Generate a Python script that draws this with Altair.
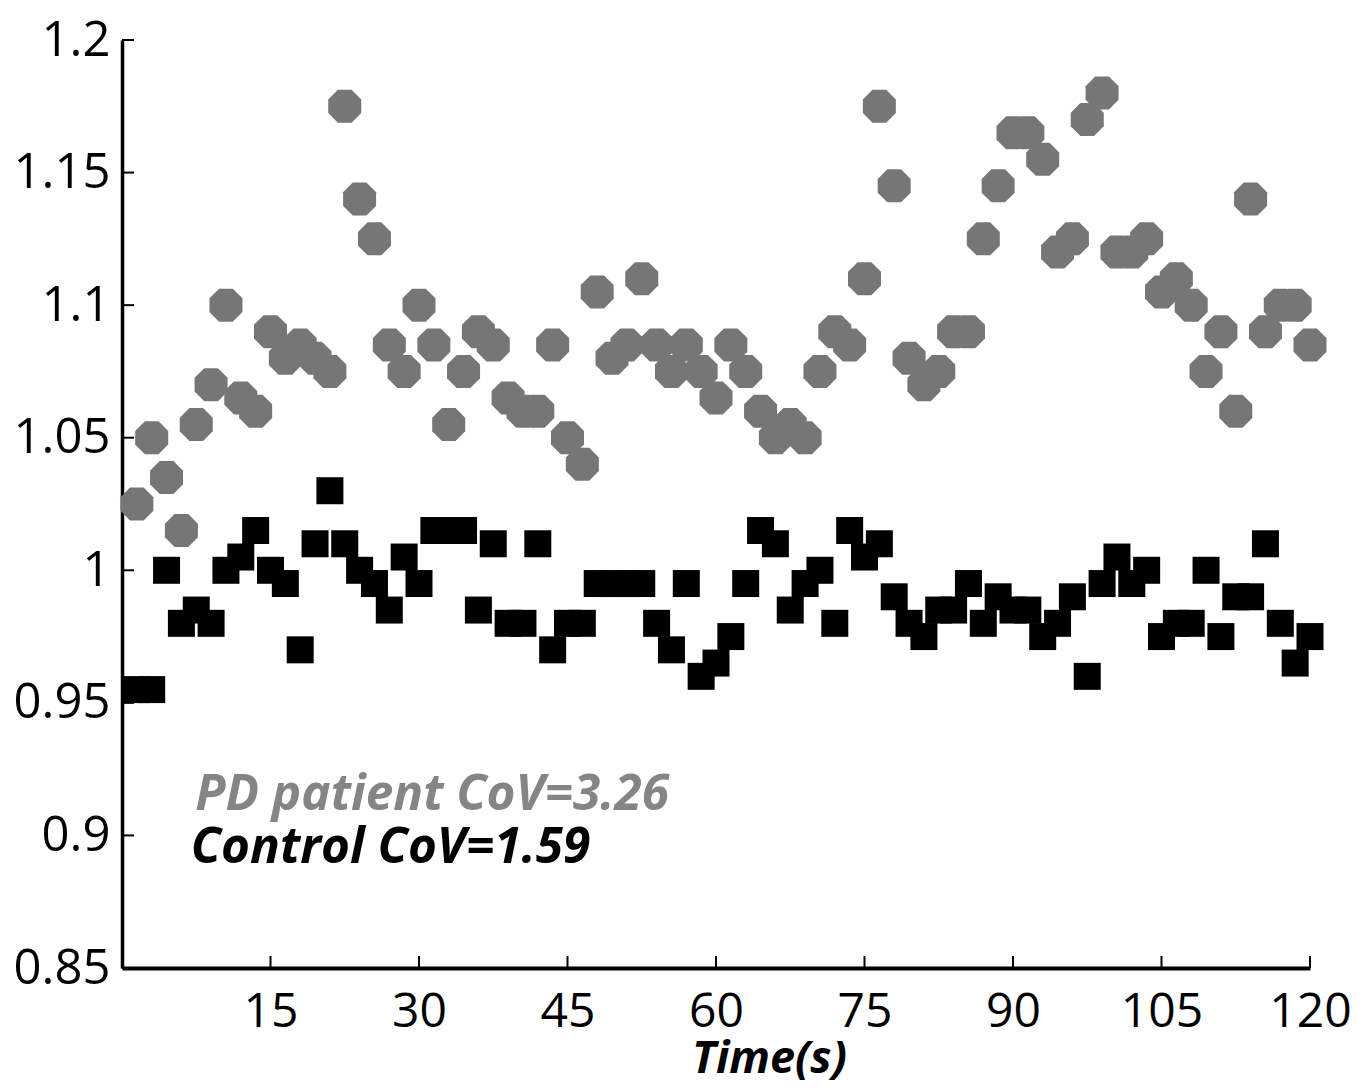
import altair as alt
import pandas as pd

# Time (s) of each stride
time_s = [1.5, 3.0, 4.5, 6.0, 7.5, 9.0, 10.5, 12.0, 13.5, 15.0,
          16.5, 18.0, 19.5, 21.0, 22.5, 24.0, 25.5, 27.0, 28.5, 30.0,
          31.5, 33.0, 34.5, 36.0, 37.5, 39.0, 40.5, 42.0, 43.5, 45.0,
          46.5, 48.0, 49.5, 51.0, 52.5, 54.0, 55.5, 57.0, 58.5, 60.0,
          61.5, 63.0, 64.5, 66.0, 67.5, 69.0, 70.5, 72.0, 73.5, 75.0,
          76.5, 78.0, 79.5, 81.0, 82.5, 84.0, 85.5, 87.0, 88.5, 90.0,
          91.5, 93.0, 94.5, 96.0, 97.5, 99.0, 100.5, 102.0, 103.5, 105.0,
          106.5, 108.0, 109.5, 111.0, 112.5, 114.0, 115.5, 117.0, 118.5, 120.0]

pd_patient = [1.025, 1.05, 1.035, 1.015, 1.055, 1.07, 1.1, 1.065, 1.06, 1.09,
              1.08, 1.085, 1.08, 1.075, 1.175, 1.14, 1.125, 1.085, 1.075, 1.1,
              1.085, 1.055, 1.075, 1.09, 1.085, 1.065, 1.06, 1.06, 1.085, 1.05,
              1.04, 1.105, 1.08, 1.085, 1.11, 1.085, 1.075, 1.085, 1.075, 1.065,
              1.085, 1.075, 1.06, 1.05, 1.055, 1.05, 1.075, 1.09, 1.085, 1.11,
              1.175, 1.145, 1.08, 1.07, 1.075, 1.09, 1.09, 1.125, 1.145, 1.165,
              1.165, 1.155, 1.12, 1.125, 1.17, 1.18, 1.12, 1.12, 1.125, 1.105,
              1.11, 1.1, 1.075, 1.09, 1.06, 1.14, 1.09, 1.1, 1.1, 1.085]

control = [0.955, 0.955, 1.0, 0.98, 0.985, 0.98, 1.0, 1.005, 1.015, 1.0,
           0.995, 0.97, 1.01, 1.03, 1.01, 1.0, 0.995, 0.985, 1.005, 0.995,
           1.015, 1.015, 1.015, 0.985, 1.01, 0.98, 0.98, 1.01, 0.97, 0.98,
           0.98, 0.995, 0.995, 0.995, 0.995, 0.98, 0.97, 0.995, 0.96, 0.965,
           0.975, 0.995, 1.015, 1.01, 0.985, 0.995, 1.0, 0.98, 1.015, 1.005,
           1.01, 0.99, 0.98, 0.975, 0.985, 0.985, 0.995, 0.98, 0.99, 0.985,
           0.985, 0.975, 0.98, 0.99, 0.96, 0.995, 1.005, 0.995, 1.0, 0.975,
           0.98, 0.98, 1.0, 0.975, 0.99, 0.99, 1.01, 0.98, 0.965, 0.975]

x_ticks = [15, 30, 45, 60, 75, 90, 105, 120]
y_ticks = [0.85, 0.9, 0.95, 1.0, 1.05, 1.1, 1.15, 1.2]

labels = ["PD patient CoV=3.26", "Control CoV=1.59"]
label_t = [7.4, 6.95]
label_v = [0.9095, 0.8895]
label_colors = ["#858585", "#000000"]

W, H = 1188, 928
GRAY = "#767676"
OCTAGON = ("M -0.414 -1 L 0.414 -1 L 1 -0.414 L 1 0.414 L 0.414 1 "
           "L -0.414 1 L -1 0.414 L -1 -0.414 Z")

df_pd = pd.DataFrame({"t": time_s, "v": pd_patient})
df_c = pd.DataFrame({"t": time_s, "v": control})
df_xt = pd.DataFrame({"t": x_ticks})
df_yt = pd.DataFrame({"v": y_ticks})
df_lab = pd.DataFrame({"t": label_t, "v": label_v, "label": labels, "c": label_colors})

xscale = alt.Scale(domain=[0, 120], nice=False, zero=False)
yscale = alt.Scale(domain=[0.85, 1.2], nice=False, zero=False)

x_axis = alt.Axis(values=x_ticks, title="Time(s)", grid=False, tickSize=0,
                  labelFont="Open Sans", labelFontSize=48, labelColor="#000",
                  labelPadding=20, domainColor="#000", domainWidth=4,
                  titleFont="Open Sans", titleFontSize=45, titleFontWeight="bold",
                  titleFontStyle="italic", titleColor="#000",
                  titleX=647, titleY=104, titleAlign="center",
                  titleBaseline="alphabetic", labelFlush=False)
y_axis = alt.Axis(values=y_ticks, title=None, grid=False, tickSize=0, format="~g",
                  labelFont="Open Sans", labelFontSize=49, labelColor="#000",
                  labelPadding=12, domainColor="#000", domainWidth=3.5,
                  labelFlush=False)

base_x = alt.X("t:Q", scale=xscale, axis=x_axis)
base_y = alt.Y("v:Q", scale=yscale, axis=y_axis)

pd_pts = alt.Chart(df_pd).mark_point(
    shape=OCTAGON, filled=True, size=1089, color=GRAY, opacity=1, strokeWidth=0
).encode(x=base_x, y=base_y)

c_pts = alt.Chart(df_c).mark_point(
    shape="square", filled=True, size=729, color="#000000", opacity=1, strokeWidth=0
).encode(x=alt.X("t:Q", scale=xscale), y=alt.Y("v:Q", scale=yscale))

xt = alt.Chart(df_xt).mark_rule(color="#000", strokeWidth=2).encode(
    x=alt.X("t:Q", scale=xscale), y=alt.value(H), y2=alt.value(H - 12))
yt = alt.Chart(df_yt).mark_rule(color="#000", strokeWidth=2).encode(
    y=alt.Y("v:Q", scale=yscale), x=alt.value(0), x2=alt.value(12))

txt = alt.Chart(df_lab).mark_text(
    align="left", baseline="alphabetic", font="Open Sans", fontSize=49.5,
    fontWeight="bold", fontStyle="italic"
).encode(x=alt.X("t:Q", scale=xscale), y=alt.Y("v:Q", scale=yscale),
         text="label:N", color=alt.Color("c:N", scale=None, legend=None))

chart = alt.layer(pd_pts, c_pts, xt, yt, txt).properties(
    width=W, height=H,
    autosize=alt.AutoSizeParams(type="none"),
    padding={"left": 114, "top": 32, "right": 52, "bottom": 115},
    background="#ffffff",
).configure_view(strokeWidth=0)

chart.save("out.html", embed_options={"renderer": "svg", "actions": False})
